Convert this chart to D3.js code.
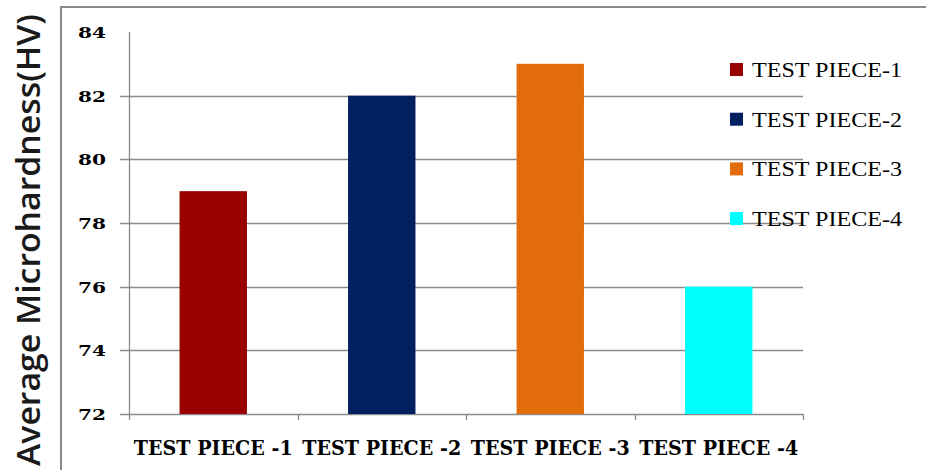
<!DOCTYPE html>
<html>
<head>
<meta charset="utf-8">
<script src="https://cdn.jsdelivr.net/npm/d3@7"></script>
<style>
  html, body { margin: 0; padding: 0; background: #fff; }
  svg { display: block; }
</style>
</head>
<body>
<svg id="chart"></svg>
<script>
const categories = ['TEST PIECE -1', 'TEST PIECE -2', 'TEST PIECE -3', 'TEST PIECE -4'];
const legendLabels = ['TEST PIECE-1', 'TEST PIECE-2', 'TEST PIECE-3', 'TEST PIECE-4'];
const hardness = [79, 82, 83, 76];
const barColors = ['#990000', '#002060', '#e36c0a', '#00ffff'];
const yTicks = [72, 74, 76, 78, 80, 82, 84];
const yTitle = 'Average Microhardness(HV)';

const W = 926, H = 470;
const plot = { left: 129, right: 803, top: 32, bottom: 414 };

const svg = d3.select('#chart').attr('width', W).attr('height', H);

// outer frame (left and top edges only)
svg.append('path')
    .attr('d', `M61,${H}V7H${W}`)
    .attr('fill', 'none').attr('stroke', '#8a8a8a').attr('stroke-width', 2);

const x = d3.scaleBand().domain(categories).range([plot.left, plot.right])
    .paddingInner(0.6).paddingOuter(0.3);
const y = d3.scaleLinear().domain([72, 84]).range([plot.bottom, plot.top]);

// Grid + left ticks
svg.append('g').selectAll('line')
    .data(yTicks.filter(d => d < 84))
    .join('line')
    .attr('x1', plot.left - 9).attr('x2', plot.right)
    .attr('y1', d => Math.round(y(d)) + 0.5).attr('y2', d => Math.round(y(d)) + 0.5)
    .attr('stroke', '#8a8a8a').attr('stroke-width', 1.3);

// y axis line
svg.append('line')
    .attr('x1', plot.left + 0.5).attr('x2', plot.left + 0.5)
    .attr('y1', plot.top).attr('y2', plot.bottom + 6)
    .attr('stroke', '#8a8a8a').attr('stroke-width', 1.3);

// category boundary ticks
const bounds = categories.map(c => x(c) - x.step() * x.paddingInner() / 2 - (c === categories[0] ? x.step() * 0 : 0));
const edges = d3.range(categories.length + 1).map(i => plot.left + i * (plot.right - plot.left) / categories.length);
svg.append('g').selectAll('line')
    .data(edges.slice(1))
    .join('line')
    .attr('x1', d => Math.round(d) + 0.5).attr('x2', d => Math.round(d) + 0.5)
    .attr('y1', plot.bottom).attr('y2', plot.bottom + 6)
    .attr('stroke', '#8a8a8a').attr('stroke-width', 1.3);

// Bars
svg.append('g').selectAll('rect')
    .data(hardness)
    .join('rect')
    .attr('x', (d, i) => x(categories[i]))
    .attr('width', x.bandwidth())
    .attr('y', d => y(d))
    .attr('height', d => y(72) - y(d))
    .attr('fill', (d, i) => barColors[i]);

// y tick labels
svg.append('g').selectAll('text')
    .data(yTicks)
    .join('text')
    .attr('x', 106).attr('y', d => y(d) + 6)
    .attr('text-anchor', 'end')
    .attr('font-family', '"DejaVu Serif", serif').attr('font-weight', 'bold').attr('font-size', '15px')
    .attr('textLength', 28).attr('lengthAdjust', 'spacingAndGlyphs')
    .attr('fill', '#000')
    .text(d => d);

// x labels
svg.append('g').selectAll('text')
    .data(categories)
    .join('text')
    .attr('x', d => x(d) + x.bandwidth() / 2).attr('y', 455)
    .attr('text-anchor', 'middle')
    .attr('font-family', '"DejaVu Serif", serif').attr('font-weight', 'bold').attr('font-size', '20px')
    .attr('textLength', 159).attr('lengthAdjust', 'spacingAndGlyphs')
    .attr('fill', '#000')
    .text(d => d);

// y title
svg.append('text')
    .attr('transform', `translate(40,240) rotate(-90)`)
    .attr('text-anchor', 'middle')
    .attr('font-family', '"Open Sans", sans-serif').attr('font-weight', 600).attr('font-size', '33px')
    .attr('textLength', 452).attr('lengthAdjust', 'spacingAndGlyphs')
    .attr('fill', '#1a1a1a')
    .text(yTitle);

// Legend
const legend = svg.append('g').selectAll('g')
    .data(legendLabels)
    .join('g')
    .attr('transform', (d, i) => `translate(730,${63 + i * 49.7})`);
legend.append('rect')
    .attr('width', 13).attr('height', 13)
    .attr('fill', (d, i) => barColors[i]);
legend.append('text')
    .attr('x', 22).attr('y', 14)
    .attr('font-family', '"Liberation Serif", serif').attr('font-size', '21px')
    .attr('textLength', 150).attr('lengthAdjust', 'spacingAndGlyphs')
    .attr('fill', '#000')
    .text(d => d);
</script>
</body>
</html>
